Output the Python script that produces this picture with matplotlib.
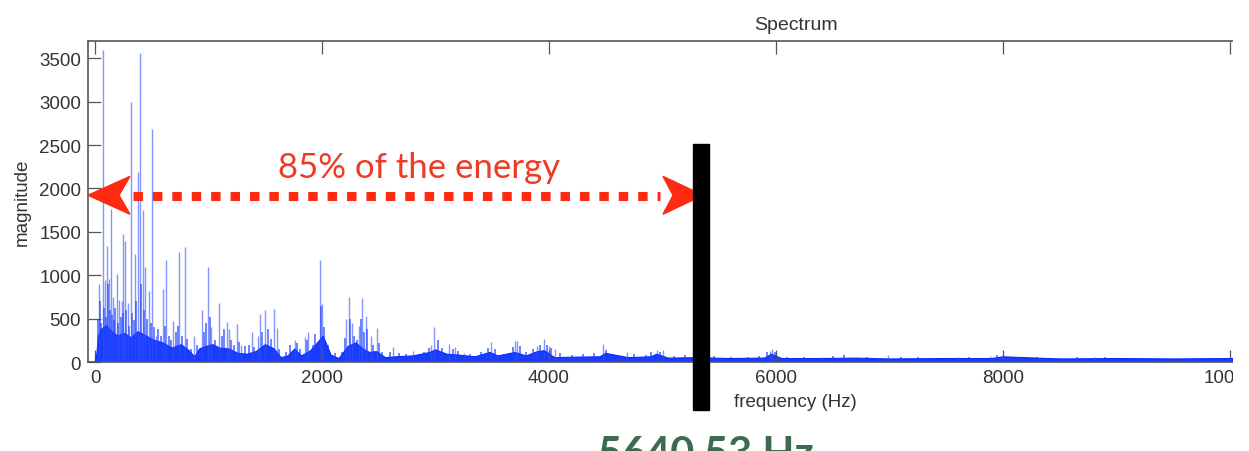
import numpy as np
import matplotlib
matplotlib.use('Agg')
import matplotlib.pyplot as plt
from matplotlib.patches import Rectangle, Polygon

# tall spectral peaks (Hz, magnitude)
peaks = [(38, 900), (68, 3600), (85, 950), (103, 1340), (120, 960), (138, 1760), (160, 750),
         (191, 1010), (215, 720), (235, 700), (250, 1470), (264, 1400), (290, 680), (314, 3000),
         (350, 1240), (381, 2190), (396, 3560), (420, 1750), (440, 1100), (478, 820), (505, 2690),
         (540, 300), (602, 840), (626, 1170), (690, 475), (743, 1270), (793, 1330), (872, 300),
         (940, 600), (998, 1100), (1020, 400), (1095, 680), (1160, 460), (1180, 380), (1248, 440),
         (1290, 200), (1386, 345), (1440, 300), (1454, 550), (1500, 600), (1580, 610), (1600, 390),
         (1762, 257), (1850, 290), (1880, 345), (1980, 1180), (2000, 670), (2210, 500), (2238, 745),
         (2260, 450), (2330, 420), (2350, 740), (2388, 530), (2430, 300), (2482, 390), (2626, 175),
         (2799, 130), (2960, 200), (2990, 405), (3119, 207), (3172, 173), (3250, 100), (3489, 230),
         (3700, 245), (3715, 240), (3891, 188), (3956, 265), (4000, 180), (4050, 150), (4478, 207),
         (4684, 111), (4949, 138), (5000, 140), (5300, 80), (5950, 130), (5965, 150), (6400, 60),
         (6987, 80), (7600, 55), (7885, 73), (8000, 95), (8811, 57), (9500, 45), (10000, 50)]

# smaller spikes in the dense part (Hz, magnitude)
minor = [(25, 500), (45, 700), (55, 450), (75, 620), (95, 520), (110, 900), (128, 600), (150, 540),
         (170, 480), (180, 620), (200, 450), (225, 520), (242, 560), (275, 600), (300, 420),
         (330, 560), (340, 480), (365, 700), (405, 900), (430, 600), (455, 500), (490, 450),
         (520, 400), (555, 380), (580, 300), (615, 420), (650, 300), (670, 250), (710, 350),
         (730, 420), (770, 300), (810, 260), (845, 150), (900, 200), (960, 350), (980, 450),
         (1010, 520), (1060, 250), (1120, 300), (1140, 380), (1200, 250), (1220, 200), (1270, 230),
         (1320, 180), (1360, 200), (1400, 170), (1470, 350), (1520, 380), (1550, 260), (1620, 150),
         (1680, 120), (1720, 200), (1780, 220), (1810, 150), (1870, 250), (1920, 200), (1940, 320),
         (1990, 650), (2020, 400), (2050, 200), (2110, 100), (2180, 120), (2200, 280), (2245, 500),
         (2280, 300), (2310, 250), (2340, 500), (2370, 350), (2400, 380), (2450, 200), (2500, 220),
         (2530, 120), (2600, 120), (2680, 100), (2740, 90), (2850, 90), (2900, 110), (2940, 160),
         (3020, 250), (3060, 160), (3150, 150), (3200, 130), (3300, 90), (3400, 110), (3460, 160),
         (3520, 150), (3600, 90), (3680, 170), (3740, 180), (3800, 110), (3860, 150), (3920, 200),
         (3980, 200), (4020, 160), (4100, 100), (4200, 80), (4300, 90), (4400, 100), (4500, 140),
         (4600, 80), (4750, 90), (4850, 80), (4900, 120), (4980, 120), (5100, 70), (5200, 75),
         (5450, 70), (5600, 60), (5750, 55), (5850, 70), (5920, 120), (5990, 110), (6100, 60),
         (6250, 55), (6500, 70), (6600, 80), (6800, 60), (7100, 55), (7250, 60), (7400, 50),
         (7700, 55), (7950, 80), (8100, 55), (8300, 55), (8500, 50), (8650, 55), (8900, 60),
         (9100, 50), (9300, 45), (9700, 45), (9900, 50), (10100, 45), (10300, 45)]

# dense floor of the spectrum (Hz, magnitude)
floor = [(0, 0), (15, 80), (30, 300), (60, 380), (100, 420), (150, 350), (200, 300), (260, 330),
         (320, 280), (380, 350), (450, 300), (520, 250), (600, 220), (680, 160), (760, 200),
         (820, 140), (880, 60), (920, 150), (980, 180), (1040, 200), (1100, 160), (1180, 150),
         (1260, 100), (1340, 90), (1420, 120), (1500, 200), (1580, 150), (1640, 50), (1700, 70),
         (1760, 150), (1820, 70), (1900, 130), (1960, 220), (2010, 300), (2080, 80), (2150, 40),
         (2230, 180), (2300, 220), (2360, 150), (2420, 110), (2480, 120), (2560, 50), (2650, 60),
         (2800, 70), (2950, 110), (3000, 140), (3100, 90), (3200, 80), (3350, 60), (3480, 110),
         (3550, 70), (3700, 110), (3800, 70), (3900, 120), (3960, 130), (4050, 50), (4200, 55),
         (4450, 60), (4500, 100), (4700, 50), (4900, 60), (4950, 90), (5050, 45), (5300, 50),
         (5600, 40), (5900, 45), (5960, 90), (6050, 40), (6400, 40), (6700, 45), (7000, 35),
         (7500, 40), (7900, 40), (8000, 60), (8500, 35), (9000, 40), (9500, 35), (10000, 40),
         (10500, 35), (11500, 35), (12500, 35)]

xticks = [0, 2000, 4000, 6000, 8000, 10000, 12000]
yticks = [0, 500, 1000, 1500, 2000, 2500, 3000, 3500]
cutoff_label = '5640.53 Hz'
energy_label = '85% of the energy'

peak_freq, peak_mag = zip(*peaks)
minor_freq, minor_mag = zip(*minor)
floor_freq, floor_mag = zip(*floor)

fig = plt.figure(figsize=(12.49, 4.52), dpi=100)
ax = fig.add_axes([0.07046, 0.1969, 1.1337, 0.7102])

ax.fill_between(floor_freq, floor_mag, color='#1a3cff', lw=0)
ax.plot(floor_freq, floor_mag, color='#0a28ff', lw=0.8)
ax.vlines(minor_freq, 0, minor_mag, color='#1a3cff', alpha=0.8, lw=1.1)
ax.vlines(peak_freq, 0, peak_mag, color='#3050ff', alpha=0.6, lw=1.0)

ax.set_xlim(-62, 12414)
ax.set_ylim(0, 3700)
ax.set_xticks(xticks)
ax.set_yticks(yticks)
ax.tick_params(direction='in', top=True, right=True, length=9, width=0.9,
               color='#555555', labelsize=13.5, labelcolor='#333333', pad=5)
for lab in ax.get_xticklabels() + ax.get_yticklabels():
    lab.set_family('Liberation Sans')
for s in ax.spines.values():
    s.set_color('#555555')
    s.set_linewidth(1.2)

ax.set_title('Spectrum', fontsize=14, pad=8.6, color='#333333', family='Liberation Sans')
ax.set_xlabel('frequency (Hz)', fontsize=13.5, color='#333333', family='Liberation Sans')
ax.set_ylabel('magnitude', fontsize=13.5, color='#333333', family='Liberation Sans')
ax.xaxis.set_label_coords(0.4993, -0.0966)
ax.yaxis.set_label_coords(-0.0403, 0.5)

# 85% energy marker
red = '#ff2a12'
ax.plot([335, 4978], [1915, 1915], color=red, lw=6.5, dashes=(1.05, 1.1),
        dash_capstyle='butt', solid_capstyle='butt', zorder=5)
ax.add_patch(Polygon([(-62, 1922), (308, 2140), (211, 1922), (308, 1703)],
                     closed=True, color=red, clip_on=False, zorder=5))
ax.add_patch(Polygon([(5357, 1922), (5004, 2140), (5093, 1922), (5004, 1703)],
                     closed=True, color=red, clip_on=False, zorder=5))
ax.text(1612, 2129, energy_label, fontsize=25, family='Lato', color='#ee3b24',
        ha='left', va='baseline', zorder=6)

ax.add_patch(Rectangle((5269, -552), 141, 3061, color='black', clip_on=False, zorder=7))

fig.text(598 / 1249, -0.034, cutoff_label, fontsize=30, fontweight='bold', family='Lato',
         color='#3e6b4f', va='baseline', ha='left')

# the source picture is cropped on the right
fig.add_artist(Rectangle((1233 / 1249, 0), 1, 1, transform=fig.transFigure,
                         facecolor='white', edgecolor='none', zorder=20))

fig.savefig('out.png', dpi=100)
